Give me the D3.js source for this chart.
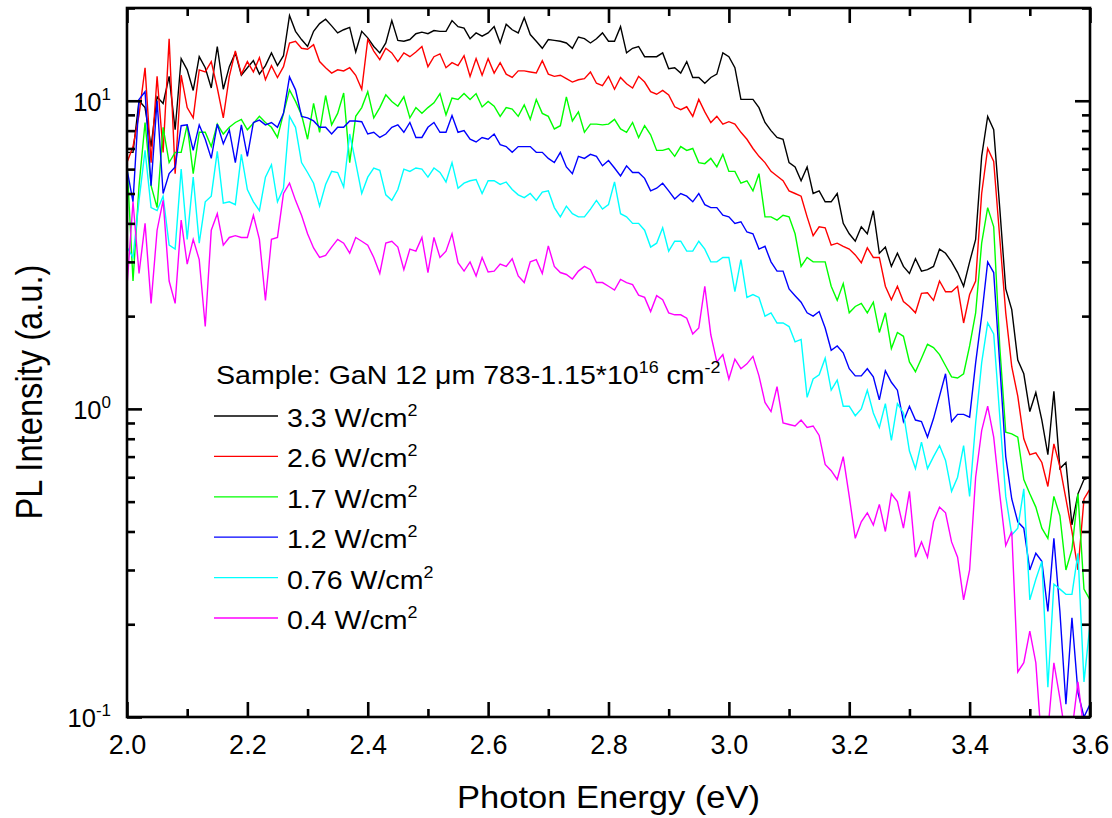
<!DOCTYPE html>
<html><head><meta charset="utf-8">
<script src="https://cdn.jsdelivr.net/npm/d3@7/dist/d3.min.js"></script>
<style>
body{margin:0;background:#fff}
text{font-family:"Liberation Sans",Arial,Helvetica,sans-serif;fill:#000}
</style>
</head><body>
<svg id="chart" width="1112" height="818"></svg>
<script>
// ---------- data ----------
const energyStart = 2.00;   // eV, first sample
const energyStep = 0.01;    // eV between samples

const seriesLabels = ["3.3", "2.6", "1.7", "1.2", "0.76", "0.4"];
const seriesColors = ["#000000", "#ff0000", "#00ff00", "#0000ff", "#00ffff", "#ff00ff"];

const pl33 = [
 6.8,6.8,10.0,9.5,7.1,10.3,9.8,12.0,8.05,13.7,
 12.6,10.8,13.9,12.8,11.0,15.0,10.9,12.9,14.3,12.1,
 12.8,13.5,12.2,13.0,14.3,13.0,14.0,18.9,16.8,15.8,
 15.0,16.8,17.8,18.4,17.5,16.6,17.0,17.3,14.4,16.8,
 16.0,15.0,14.3,15.4,18.2,15.7,15.6,15.8,16.5,16.7,
 16.5,16.9,16.8,16.8,18.2,17.4,17.2,15.9,16.6,16.2,
 16.6,17.4,15.4,17.7,17.0,16.6,18.6,16.4,15.6,14.8,
 15.8,15.7,15.6,15.4,14.8,16.1,15.9,15.4,15.9,16.6,
 15.6,15.6,17.4,14.3,14.8,15.0,13.9,13.9,13.9,14.3,
 12.7,12.8,12.3,13.4,11.9,11.9,11.4,11.9,12.2,14.3,
 13.9,12.8,10.1,10.1,10.1,9.5,8.5,8.0,7.6,7.5,
 6.3,6.1,5.5,6.1,5.0,5.1,4.7,4.7,5.0,4.0,
 3.7,3.5,3.9,3.7,4.4,3.2,3.35,2.9,3.2,2.9,
 2.75,3.07,2.8,2.83,2.9,3.3,3.2,3.0,2.77,2.5,
 3.0,3.55,6.6,8.9,8.05,4.5,2.45,2.1,1.44,1.3,
 0.98,1.13,0.92,0.71,1.14,0.64,0.67,0.42,0.53,0.59,
 0.6];

const pl26 = [
 6.3,7.1,9.0,12.8,6.3,12.0,6.8,15.9,5.8,12.1,
 9.5,8.8,12.6,12.4,13.4,11.0,8.8,12.0,14.5,12.2,
 13.4,12.4,13.8,11.7,13.0,11.9,12.9,15.4,15.6,14.8,
 14.7,15.2,13.4,12.8,12.3,12.6,12.5,12.8,12.1,10.9,
 15.8,14.5,13.6,14.8,14.3,13.4,14.3,13.9,14.4,15.0,
 12.9,13.9,14.2,12.8,13.3,13.0,14.0,12.0,13.7,12.1,
 13.7,12.3,13.3,12.2,11.9,12.5,12.5,12.4,12.3,13.5,
 12.2,12.0,12.1,11.8,11.5,11.7,11.8,12.4,11.4,11.2,
 12.0,10.9,11.9,11.35,11.0,12.0,11.5,10.7,10.5,10.8,
 10.45,9.56,9.35,9.56,8.9,10.1,9.2,8.5,8.9,8.4,
 8.55,8.4,7.9,7.5,7.0,6.6,6.3,5.9,5.7,5.5,
 5.1,5.0,4.9,4.2,3.65,3.9,3.87,3.4,3.45,3.37,
 3.3,3.16,2.98,3.33,3.1,3.1,2.5,2.26,2.5,2.23,
 2.15,2.05,2.37,2.38,2.25,2.6,2.4,2.4,2.5,1.9,
 2.35,2.6,5.0,7.0,6.35,3.6,2.05,1.37,1.1,0.8,
 0.71,0.72,0.67,0.56,0.77,0.65,0.51,0.4,0.3,0.51,
 0.55];

const pl17 = [
 6.3,2.6,5.3,8.5,5.3,4.5,8.2,6.3,6.8,6.8,
 8.35,5.8,7.9,7.9,7.1,8.4,7.8,8.2,8.5,8.7,
 8.05,8.45,8.9,8.5,8.2,7.6,9.1,10.85,9.95,9.0,
 7.5,9.8,7.9,10.4,8.35,9.1,10.6,6.3,8.9,9.5,
 10.7,8.8,9.5,10.45,9.95,9.6,10.3,8.8,9.5,9.1,
 9.5,9.85,10.55,9.0,10.2,10.1,10.55,10.1,10.55,9.55,
 9.95,9.6,8.9,9.5,9.4,8.9,9.7,8.7,10.1,9.1,
 8.9,8.1,8.3,10.3,8.6,9.2,7.9,8.4,8.4,8.35,
 8.4,8.7,8.1,7.9,8.5,7.6,8.3,7.75,6.9,6.9,
 7.0,6.6,7.1,6.9,7.0,6.3,6.25,6.5,6.1,6.7,
 5.9,5.9,5.4,5.5,5.1,5.8,4.2,4.2,4.1,4.25,
 4.2,3.7,2.9,3.1,3.0,3.0,3.0,2.5,2.25,2.55,
 2.05,2.15,2.2,2.05,2.22,1.77,2.05,1.57,1.77,1.72,
 1.42,1.32,1.46,1.62,1.58,1.5,1.38,1.27,1.26,1.3,
 1.6,2.05,3.45,4.5,3.9,1.6,0.84,0.83,0.81,0.59,
 0.53,0.48,0.41,0.38,0.52,0.45,0.3,0.35,0.53,0.26,
 0.24];

const pl12 = [
 6.0,4.7,10.1,10.7,5.3,10.0,5.0,5.8,6.1,8.3,
 8.35,6.9,8.35,7.5,6.5,8.4,7.25,8.05,6.3,8.35,
 6.6,8.5,8.65,8.35,8.5,8.2,9.1,11.95,10.85,8.9,
 8.8,8.6,8.2,8.2,7.8,8.2,8.2,8.6,8.6,8.55,
 7.8,7.9,7.6,7.8,8.2,8.35,7.9,8.5,7.6,7.6,
 8.2,8.5,7.9,7.9,8.95,7.9,8.0,7.5,7.35,7.6,
 7.5,7.8,7.2,7.1,6.8,7.1,7.1,7.1,6.8,6.8,
 6.5,6.3,6.8,6.1,5.8,6.6,6.5,6.7,6.6,6.15,
 6.4,6.05,5.7,6.15,5.85,5.85,5.6,5.1,5.2,5.4,
 5.1,4.8,5.0,4.9,4.7,5.0,4.6,4.5,4.5,4.25,
 4.2,4.0,4.05,3.75,3.7,3.3,3.37,3.0,2.8,2.8,
 2.45,2.33,2.22,2.05,2.0,2.07,1.83,1.55,1.6,1.52,
 1.35,1.28,1.28,1.35,1.27,1.07,1.33,1.22,1.15,0.91,
 1.02,0.92,0.91,0.81,0.93,1.1,1.3,0.91,0.96,0.96,
 0.94,1.41,2.0,3.0,2.77,1.4,0.7,0.51,0.43,0.41,
 0.3,0.34,0.32,0.22,0.38,0.22,0.11,0.21,0.12,0.1,
 0.11];

const pl076 = [
 3.35,3.1,4.75,6.9,4.5,4.4,4.9,3.4,3.3,6.0,
 3.55,5.65,3.45,4.7,4.9,6.85,4.65,4.7,4.6,6.7,
 5.15,4.7,4.4,5.65,6.2,4.7,5.2,8.9,8.2,6.3,
 5.85,5.4,4.55,5.35,5.9,5.85,5.25,7.8,6.3,5.0,
 5.65,6.05,5.95,4.95,4.75,5.15,6.0,5.9,6.05,6.0,
 5.65,6.05,5.85,5.45,6.3,5.2,5.4,5.5,5.55,5.0,
 5.5,5.5,5.35,5.45,5.15,4.95,4.85,5.0,4.75,5.05,
 5.1,4.5,4.2,4.55,4.3,4.2,4.2,4.45,4.75,4.45,
 4.6,5.45,4.3,4.2,4.0,4.0,3.8,3.35,3.45,3.87,
 3.25,3.5,3.5,3.25,3.25,3.5,3.3,3.0,3.0,3.1,
 3.1,2.4,3.05,2.3,2.35,2.3,2.0,2.05,1.9,1.9,
 1.85,1.65,1.68,1.09,1.25,1.29,1.46,1.15,1.24,1.02,
 1.02,0.95,1.0,1.15,0.97,0.87,1.04,0.79,1.04,0.97,
 0.73,0.64,0.78,0.64,0.70,0.76,0.68,0.54,0.6,0.76,
 0.52,0.9,1.41,1.9,1.75,0.95,0.52,0.39,0.41,0.55,
 0.24,0.28,0.32,0.125,0.27,0.26,0.25,0.25,0.34,0.13,
 0.2];

const pl04 = [
 2.5,4.7,2.75,4.0,2.2,3.8,4.75,2.6,2.2,4.1,
 2.95,3.55,3.05,1.85,3.8,4.3,3.4,3.6,3.65,3.6,
 3.6,4.25,3.55,2.25,3.55,3.6,5.0,5.4,4.75,4.25,
 3.7,3.33,3.1,3.15,3.35,3.55,3.45,3.2,3.6,3.5,
 3.4,3.1,2.75,3.45,3.5,3.35,2.83,3.3,3.25,3.6,
 2.77,3.6,3.1,3.25,3.7,2.98,2.8,3.0,2.7,3.1,
 2.78,2.8,2.95,2.9,3.07,2.7,2.57,3.0,3.05,2.75,
 3.38,2.9,2.77,2.73,2.64,2.8,2.9,2.83,2.57,2.57,
 2.5,2.43,2.63,2.57,2.53,2.34,2.3,2.07,2.33,2.26,
 2.05,2.02,2.02,1.97,1.75,1.83,2.5,1.74,1.42,1.5,
 1.25,1.45,1.35,1.4,1.48,1.28,1.05,0.98,1.18,0.9,
 0.89,0.88,0.92,0.87,0.88,0.82,0.66,0.63,0.59,0.7,
 0.52,0.38,0.43,0.46,0.42,0.49,0.4,0.53,0.5,0.41,
 0.54,0.33,0.37,0.33,0.43,0.48,0.46,0.37,0.33,0.24,
 0.3,0.6,0.85,1.02,0.81,0.53,0.36,0.4,0.14,0.15,
 0.19,0.15,0.08,0.09,0.15,0.115,0.085,0.09,0.13,0.09,
 0.085];

const seriesValues = [pl33, pl26, pl17, pl12, pl076, pl04];

const xMajorTicks = [2.0, 2.2, 2.4, 2.6, 2.8, 3.0, 3.2, 3.4, 3.6];
const xMinorTicks = [2.1, 2.3, 2.5, 2.7, 2.9, 3.1, 3.3, 3.5];
const yMajorExponents = [-1, 0, 1];
const yMinorTicks = [0.2,0.3,0.4,0.5,0.6,0.7,0.8,0.9,2,3,4,5,6,7,8,9,20];
const xDomain = [2.0, 3.6];
const yDomain = [0.1, 20];

const xTitle = "Photon Energy (eV)";
const yTitle = "PL Intensity (a.u.)";

// ---------- layout ----------
const L = 127, R = 1090, T = 8, B = 717;
const svg = d3.select("#chart");
const x = d3.scaleLinear().domain(xDomain).range([L, R]);
const y = d3.scaleLog().domain(yDomain).range([B, T]);

const energies = pl33.map((_, i) => +(energyStart + i * energyStep).toFixed(2));

svg.append("defs").append("clipPath").attr("id", "plotClip")
  .append("rect").attr("x", L).attr("y", T).attr("width", R - L).attr("height", B - T);

// series
const line = d3.line().x((d, i) => x(energies[i])).y(d => y(d));
const gLines = svg.append("g").attr("clip-path", "url(#plotClip)");
seriesValues.forEach((vals, k) => {
  gLines.append("path").datum(vals)
    .attr("d", line).attr("fill", "none")
    .attr("stroke", seriesColors[k]).attr("stroke-width", 1.4)
    .attr("stroke-linejoin", "miter");
});

// axes (inward ticks on all four sides)
const axStroke = 2.6;
function styleAxis(g) {
  g.select(".domain").remove();
  g.selectAll(".tick line").attr("stroke", "#000").attr("stroke-width", axStroke);
}
svg.append("g").attr("transform", `translate(0,${B})`)
  .call(d3.axisBottom(x).tickValues(xMajorTicks).tickSize(-15).tickPadding(18).tickFormat(d3.format(".1f")))
  .call(styleAxis)
  .call(g => g.selectAll("text").attr("font-size", 27).attr("fill", "#000")
      .style("font-family", '"Liberation Sans",Arial,sans-serif'));
svg.append("g").attr("transform", `translate(0,${B})`)
  .call(d3.axisBottom(x).tickValues(xMinorTicks).tickSize(-8).tickFormat(""))
  .call(styleAxis);
svg.append("g").attr("transform", `translate(0,${T})`)
  .call(d3.axisTop(x).tickValues(xMajorTicks).tickSize(-15).tickFormat(""))
  .call(styleAxis);
svg.append("g").attr("transform", `translate(0,${T})`)
  .call(d3.axisTop(x).tickValues(xMinorTicks).tickSize(-8).tickFormat(""))
  .call(styleAxis);

const yMajorVals = yMajorExponents.map(e => Math.pow(10, e));
svg.append("g").attr("transform", `translate(${L},0)`)
  .call(d3.axisLeft(y).tickValues(yMajorVals).tickSize(-15).tickFormat(""))
  .call(styleAxis);
svg.append("g").attr("transform", `translate(${L},0)`)
  .call(d3.axisLeft(y).tickValues(yMinorTicks).tickSize(-8).tickFormat(""))
  .call(styleAxis);
svg.append("g").attr("transform", `translate(${R},0)`)
  .call(d3.axisRight(y).tickValues(yMajorVals).tickSize(-15).tickFormat(""))
  .call(styleAxis);
svg.append("g").attr("transform", `translate(${R},0)`)
  .call(d3.axisRight(y).tickValues(yMinorTicks).tickSize(-8).tickFormat(""))
  .call(styleAxis);

// y tick labels 10^n
yMajorExponents.forEach(e => {
  const t = svg.append("text").attr("x", 111).attr("y", y(Math.pow(10, e)) + 10)
    .attr("text-anchor", "end").attr("font-size", 25.5);
  t.append("tspan").text("10");
  t.append("tspan").attr("font-size", 17).attr("dy", -11).text(String(e));
});

// frame
svg.append("rect").attr("x", L).attr("y", T).attr("width", R - L).attr("height", B - T)
  .attr("fill", "none").attr("stroke", "#000").attr("stroke-width", axStroke);

// axis titles
svg.append("text").attr("x", (L + R) / 2).attr("y", 808).attr("text-anchor", "middle")
  .attr("font-size", 31).attr("textLength", 303).attr("lengthAdjust", "spacingAndGlyphs")
  .text(xTitle);
svg.append("text").attr("transform", "translate(42,392) rotate(-90)").attr("text-anchor", "middle")
  .attr("font-size", 36).attr("textLength", 255).attr("lengthAdjust", "spacingAndGlyphs")
  .text(yTitle);

// legend (text is horizontally stretched in the original)
const stretch = 1.12;
const lg = svg.append("g");
const head = lg.append("text").attr("transform", `translate(216,384) scale(${stretch},1)`).attr("font-size", 25.5);
head.append("tspan").text("Sample: GaN 12 \u03bcm 783-1.15*10");
head.append("tspan").attr("font-size", 16).attr("dy", -11).text("16");
head.append("tspan").attr("dy", 11).text(" cm");
head.append("tspan").attr("font-size", 16).attr("dy", -11).text("-2");

const legendY0 = 416, legendStep = 40.4;
seriesLabels.forEach((lab, k) => {
  const yy = legendY0 + k * legendStep;
  lg.append("line").attr("x1", 214).attr("x2", 278).attr("y1", yy).attr("y2", yy)
    .attr("stroke", seriesColors[k]).attr("stroke-width", 1.3);
  const t = lg.append("text").attr("transform", `translate(287,${yy + 11}) scale(${stretch},1)`).attr("font-size", 25.5);
  t.append("tspan").text(lab + " W/cm");
  t.append("tspan").attr("font-size", 16).attr("dy", -11).text("2");
});
</script>
</body></html>
